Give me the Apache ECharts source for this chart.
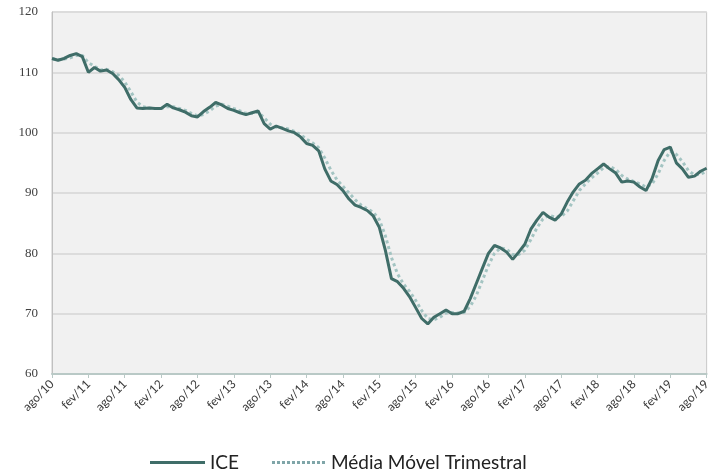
<!DOCTYPE html>
<html>
<head>
<meta charset="utf-8">
<script src="https://cdn.jsdelivr.net/npm/echarts@6/dist/echarts.min.js"></script>
<style>
html,body{margin:0;padding:0;background:#fff;}
#chart{width:713px;height:472px;}
</style>
</head>
<body>
<div id="chart"></div>
<script>
var monthNames = ['jan','fev','mar','abr','mai','jun','jul','ago','set','out','nov','dez'];
// categories: ago/10 .. ago/19 (monthly)
var categories = [];
(function(){
  var m = 7, y = 10;
  for (var k = 0; k < 109; k++) {
    categories.push(monthNames[m] + '/' + y);
    m++; if (m > 11) { m = 0; y++; }
  }
})();

var iceValues = [
  112.3,112.0,112.3,112.8,113.1,112.6,110.0,110.8,110.2,110.4,
  109.8,108.8,107.5,105.5,104.1,104.0,104.1,104.0,104.0,104.7,
  104.1,103.8,103.4,102.8,102.6,103.5,104.2,105.0,104.6,104.0,
  103.7,103.3,103.0,103.3,103.6,101.5,100.6,101.1,100.7,100.3,
  100.0,99.3,98.2,97.9,97.0,94.0,92.0,91.4,90.4,89.0,
  88.0,87.6,87.1,86.2,84.3,80.5,75.8,75.3,74.2,72.8,
  71.0,69.2,68.3,69.4,70.0,70.6,70.0,70.0,70.4,72.5,
  75.0,77.5,80.0,81.3,80.9,80.2,79.0,80.2,81.5,84.0,
  85.5,86.8,86.0,85.5,86.5,88.5,90.2,91.5,92.1,93.2,
  94.0,94.8,94.0,93.3,91.8,92.0,91.8,91.0,90.4,92.4,
  95.4,97.2,97.6,95.0,94.0,92.6,92.8,93.6,94.1
];

var mediaMovelValues = [
  112.2,112.1,112.2,112.4,112.8,112.8,111.6,111.0,110.4,110.5,
  110.1,109.5,108.4,106.8,105.1,104.3,104.1,104.0,104.0,104.3,
  104.3,104.0,103.7,103.2,102.8,103.0,103.6,104.4,104.7,104.4,
  104.0,103.6,103.2,103.2,103.4,102.5,101.4,100.9,100.8,100.6,
  100.2,99.7,98.9,98.3,97.5,95.8,93.8,92.2,91.1,90.0,
  88.9,88.0,87.4,86.8,85.6,82.9,79.3,76.6,74.9,73.7,
  72.2,70.5,69.2,69.0,69.4,70.1,70.2,70.1,70.2,71.2,
  73.0,75.5,78.0,80.0,80.9,80.7,79.8,79.8,80.5,82.3,
  84.2,85.7,86.3,86.0,86.1,87.0,88.7,90.4,91.5,92.5,
  93.3,94.2,94.4,93.9,92.9,92.3,91.9,91.5,91.0,91.5,
  93.2,95.4,96.9,96.4,95.2,93.7,93.0,93.1,93.6
];

var dotPath = 'path://';
for (var d = 0; d < 11; d++) { dotPath += 'M' + (d * 5) + ',0h3v3h-3z '; }

var chart = echarts.init(document.getElementById('chart'));
chart.setOption({
  backgroundColor: '#ffffff',
  animation: false,
  grid: {
    left: 52, right: 1, top: 12, bottom: 98,
    show: true, backgroundColor: '#f1f1f1', borderColor: '#c8c8c8', borderWidth: 1
  },
  legend: {
    top: 448,
    left: 145,
    itemWidth: 55,
    itemHeight: 3,
    itemGap: 33,
    textStyle: { fontFamily: 'Lato', fontSize: 19, color: '#222222' },
    data: [
      { name: 'ICE', icon: 'path://M0,0H55V3H0Z', itemStyle: { color: '#3f6d68' } },
      { name: 'Média Móvel Trimestral', icon: dotPath, itemStyle: { color: '#7fa5a8' } }
    ]
  },
  xAxis: {
    type: 'category',
    data: categories,
    boundaryGap: false,
    axisLine: { lineStyle: { color: '#b9c9c6', width: 2 } },
    axisTick: { show: true, interval: 5, length: 4, lineStyle: { color: '#b9c9c6' } },
    axisLabel: {
      interval: 5, rotate: 45, fontFamily: 'Lato', fontSize: 12, color: '#3a3a3a', margin: 8
    },
    splitLine: { show: false }
  },
  yAxis: {
    type: 'value',
    min: 60, max: 120, interval: 10,
    axisLine: { show: true, lineStyle: { color: '#c0c0c0' } },
    axisTick: { show: false },
    axisLabel: { fontFamily: 'Liberation Serif', fontSize: 13, color: '#404040', margin: 14 },
    splitLine: { lineStyle: { color: '#dcdcdc', width: 2 } }
  },
  series: [
    {
      name: 'Média Móvel Trimestral',
      type: 'line',
      data: mediaMovelValues,
      symbol: 'none',
      z: 2,
      lineStyle: { color: '#a3c4c2', width: 3, type: 'dotted' },
      itemStyle: { color: '#7fa5a8' }
    },
    {
      name: 'ICE',
      type: 'line',
      data: iceValues,
      symbol: 'none',
      z: 3,
      lineStyle: { color: '#3f6d68', width: 3 },
      itemStyle: { color: '#3f6d68' }
    }
  ]
});
</script>
</body>
</html>
